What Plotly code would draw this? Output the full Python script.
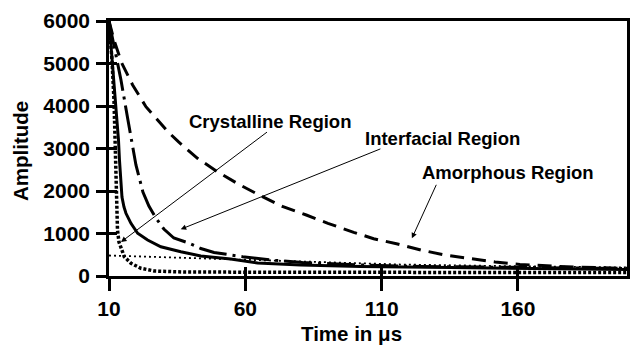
import plotly.graph_objects as go

# Time axis (microseconds) and decay amplitudes for each relaxation component
t_amorphous = [10, 11.83, 14.57, 18.67, 23.54, 31.59, 35.43, 42.45, 49.77, 57.38, 65.61,
               73.84, 82.37, 90.31, 99.75, 107.06, 115.84, 124.77, 133.29, 142.44,
               151.59, 160.73, 175.37, 190, 200]
a_amorphous = [6000, 5553, 5024, 4494, 3984, 3395, 3160, 2769, 2454, 2165, 1887,
               1631, 1435, 1240, 1028, 878, 753, 605, 494, 407,
               329, 271, 224, 195, 180]

t_crystalline = [10, 10.91, 11.83, 12.74, 13.48, 13.84, 14.21, 14.76, 15.49, 16.22, 18.05,
                 20.5, 24.16, 29.02, 36.34, 43.66, 54.63, 64.51, 80.24, 102.2, 135.1,
                 168.05, 200]
a_crystalline = [6000, 5318, 4494, 3788, 3200, 2729, 2259, 1859, 1624, 1475, 1240,
                 1005, 847, 689, 572, 471, 400, 306, 259, 224, 200,
                 176, 153]

t_interfacial = [10, 12.2, 14.39, 16.95, 19.88, 22.44, 24.63, 27.2, 30.12, 33.78, 38.72,
                 43.66, 48.53, 59.02, 69.27, 80.98, 91.22, 102.2, 124.15, 153.4, 175.4, 200]
a_interfacial = [6000, 5318, 4612, 3671, 2612, 1976, 1647, 1365, 1106, 894, 788,
                 647, 553, 454, 376, 318, 282, 259, 224, 200, 188, 176]

t_fast = [10, 11.1, 11.83, 12.38, 12.74, 13.11, 13.66, 14.57, 15.6, 18.05, 21.71,
          26.57, 37.55, 80.25, 200]
a_fast = [6000, 5082, 4141, 2965, 1788, 1082, 800, 612, 454, 299, 181,
          118, 94, 87, 82]

t_base = [10, 21.7, 32.7, 40, 54.6, 80, 117, 153, 200]
a_base = [482, 459, 424, 412, 388, 329, 270, 235, 200]

x_ticks = [10, 60, 110, 160]
y_ticks = [0, 1000, 2000, 3000, 4000, 5000, 6000]
x_range = [10, 200]
y_range = [0, 6000]

FONT = "Liberation Sans, Arial, sans-serif"
INK = "black"

fig = go.Figure()

fig.add_trace(go.Scatter(x=t_base, y=a_base, mode="lines",
                         line=dict(color=INK, width=1.8, dash="2px,3px")))
fig.add_trace(go.Scatter(x=t_fast, y=a_fast, mode="lines",
                         line=dict(color=INK, width=3.5, dash="3px,2px")))
fig.add_trace(go.Scatter(x=t_amorphous, y=a_amorphous, mode="lines",
                         line=dict(color=INK, width=3, dash="14px,8px")))
fig.add_trace(go.Scatter(x=t_interfacial, y=a_interfacial, mode="lines",
                         line=dict(color=INK, width=3, dash="28px,6px,3px,6px")))
fig.add_trace(go.Scatter(x=t_crystalline, y=a_crystalline, mode="lines",
                         line=dict(color=INK, width=3)))

# helper trace so the overlay axes (inner half of the crossing ticks) are drawn
fig.add_trace(go.Scatter(x=[x_range[0]], y=[y_range[0]], xaxis="x2", yaxis="y2",
                         mode="markers", marker=dict(opacity=0, size=1),
                         hoverinfo="skip"))

# region labels with arrows pointing at their curves
labels = [
    ("Crystalline Region", 68.9, 3647, 68.5, 3412, 14.4, 800),
    ("Interfacial Region", 132.2, 3247, 110.1, 3005, 36.3, 1099),
    ("Amorphous Region", 156.2, 2431, 130.3, 2181, 121.1, 887),
]
for text, tx, ty, ax, ay, hx, hy in labels:
    fig.add_annotation(x=tx, y=ty, text=text, showarrow=False,
                       font=dict(family=FONT, size=18.5, color=INK, weight="bold"))
    fig.add_annotation(x=hx, y=hy, ax=ax, ay=ay, xref="x", yref="y",
                       axref="x", ayref="y", text="", showarrow=True,
                       arrowhead=2, arrowsize=1.1, arrowwidth=1, arrowcolor=INK,
                       standoff=0, startstandoff=0)

tick_font = dict(family=FONT, size=21, color=INK, weight="bold")
title_font = dict(family=FONT, size=20.5, color=INK, weight="bold")

# axis titles
fig.add_annotation(text="Time in μs", xref="paper", yref="paper",
                   x=0.469, y=-0.225, xanchor="center", yanchor="middle",
                   showarrow=False, font=title_font)
fig.add_annotation(text="Amplitude", xref="paper", yref="paper",
                   x=-0.172, y=0.49, xanchor="center", yanchor="middle",
                   textangle=-90, showarrow=False, font=title_font)

fig.update_layout(
    width=630, height=345,
    margin=dict(l=109, r=3, t=21, b=69),
    paper_bgcolor="white", plot_bgcolor="white",
    showlegend=False,
    font=dict(family=FONT, color=INK),
    xaxis=dict(range=x_range, tickmode="array", tickvals=x_ticks,
               ticks="outside", ticklen=12, tickwidth=2.5, tickcolor=INK,
               showline=True, linewidth=2.5, linecolor=INK, mirror=True,
               showgrid=False, zeroline=False, tickfont=tick_font,
               automargin=False),
    yaxis=dict(range=y_range, tickmode="array", tickvals=y_ticks,
               ticks="outside", ticklen=10, tickwidth=2.5, tickcolor=INK,
               ticklabelstandoff=2,
               showline=True, linewidth=2.5, linecolor=INK, mirror=True,
               showgrid=False, zeroline=False, tickfont=tick_font,
               automargin=False),
    xaxis2=dict(range=x_range, overlaying="x", anchor="y", side="bottom",
                tickmode="array", tickvals=x_ticks, ticks="inside", ticklen=9,
                tickwidth=2.5, tickcolor=INK, showticklabels=False,
                showline=False, showgrid=False, zeroline=False, automargin=False),
    yaxis2=dict(range=y_range, overlaying="y", anchor="x", side="left",
                tickmode="array", tickvals=y_ticks, ticks="inside", ticklen=8,
                tickwidth=2.5, tickcolor=INK, showticklabels=False,
                showline=False, showgrid=False, zeroline=False, automargin=False),
)

fig.write_html("out.html")
